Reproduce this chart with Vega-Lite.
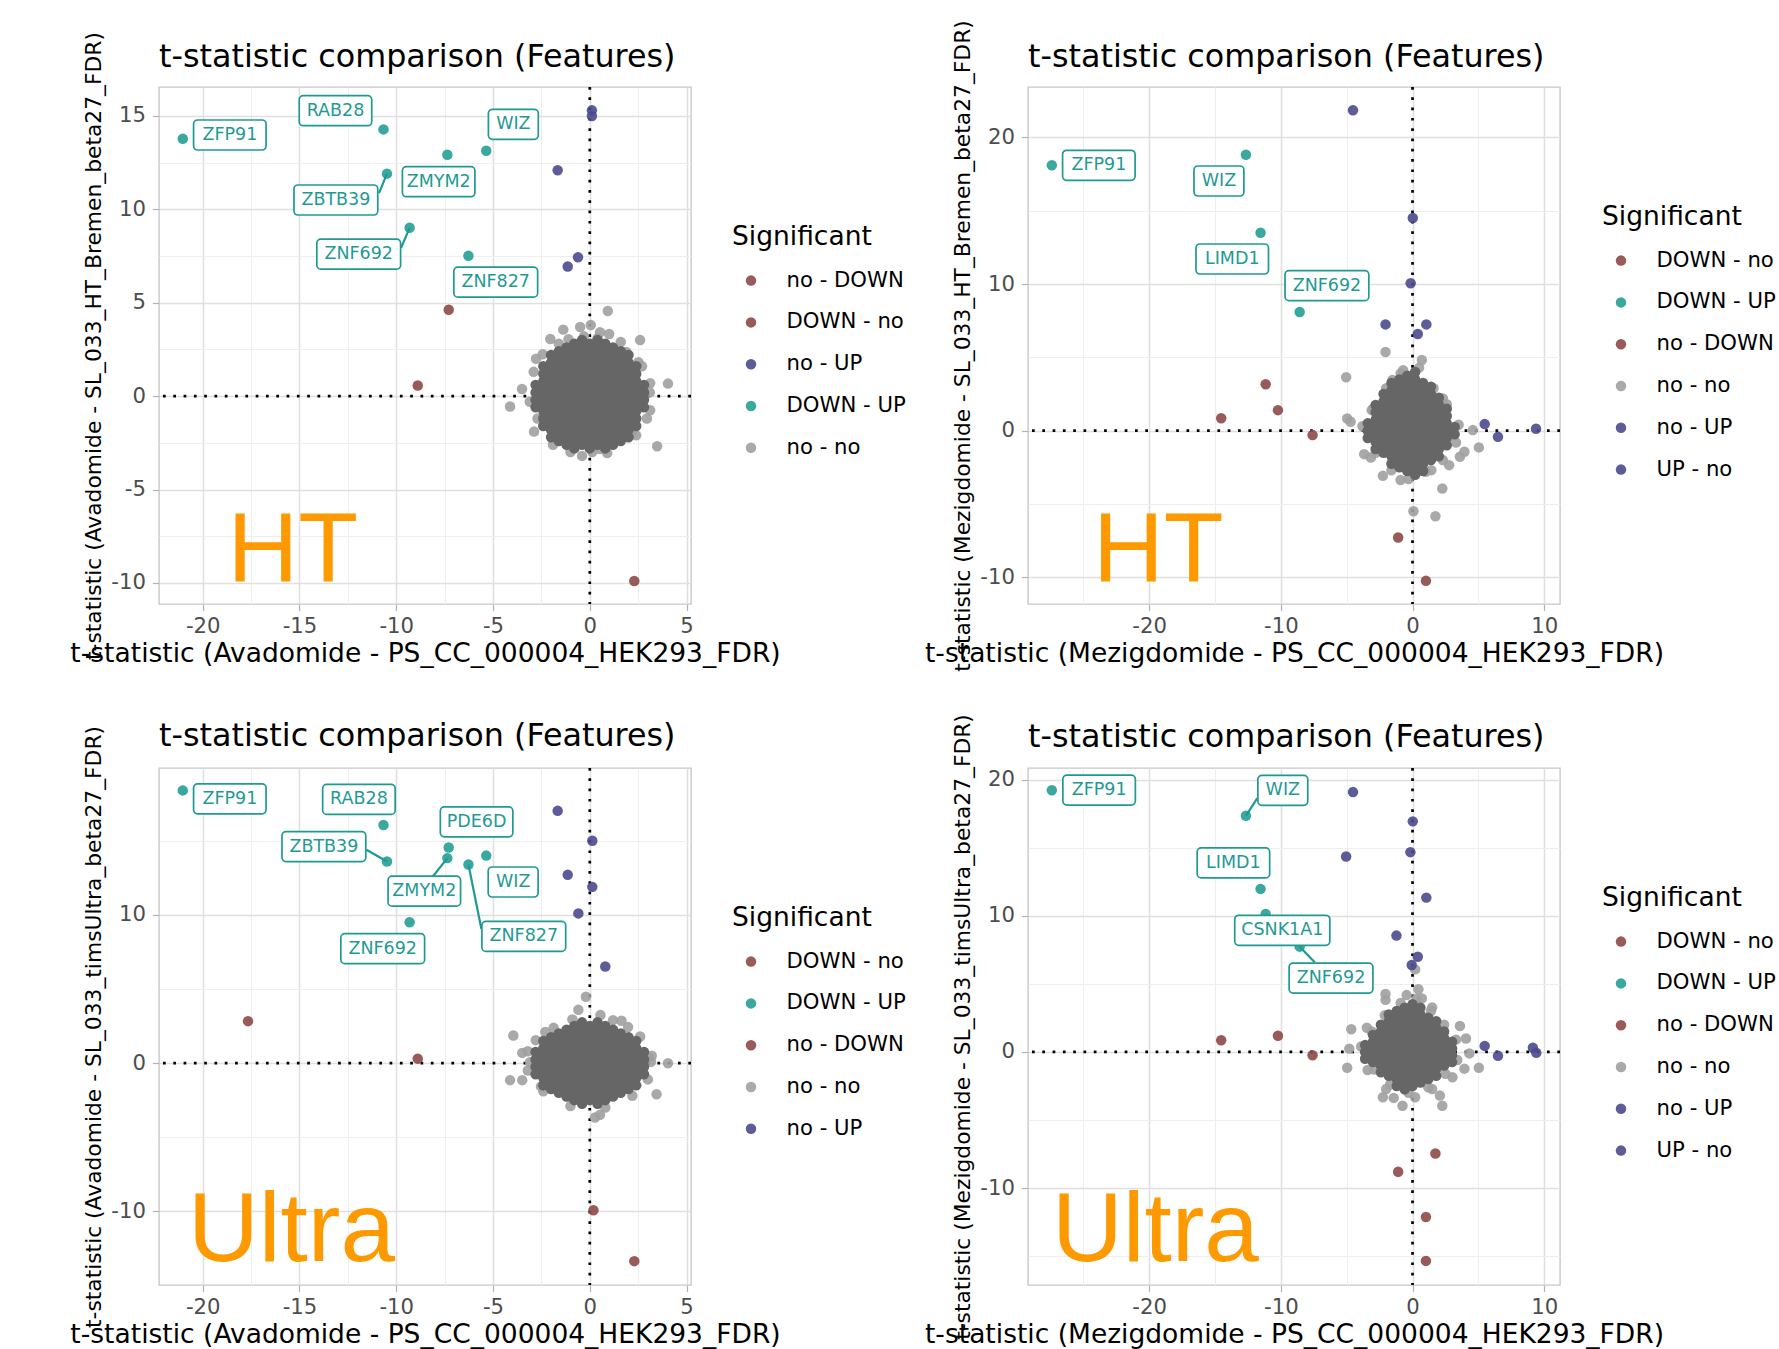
{
"$schema": "https://vega.github.io/schema/vega-lite/v6.json",
"autosize": {"type": "none"},
"padding": {"left": 159, "top": 87, "right": 1620, "bottom": 1262},
"config": {
 "font": "DejaVu Sans",
 "view": {"stroke": "#c8c8c8", "strokeWidth": 1.4},
 "axis": {"domain": false, "grid": true, "ticks": true, "tickColor": "#b3b3b3", "tickSize": 6.6, "tickWidth": 1.2, "labelFont": "DejaVu Sans", "labelFontSize": 21.2, "labelColor": "#4d4d4d", "labelFlush": false, "titleFont": "DejaVu Sans", "titleFontSize": 26.5, "titleFontWeight": "normal", "titleColor": "#000000"},
 "legend": {"orient": "none", "titleFontSize": 26.5, "titleFontWeight": "normal", "titleColor": "#000000", "labelFontSize": 21.2, "labelColor": "#000000", "symbolType": "circle", "symbolSize": 110, "symbolOpacity": 0.9, "symbolStrokeWidth": 0, "rowPadding": 19.8, "titlePadding": 19.5, "symbolOffset": 8.4, "labelOffset": 24.9, "padding": 0},
 "title": {"fontSize": 31.8, "fontWeight": "normal", "anchor": "start", "frame": "group", "baseline": "alphabetic", "color": "#000000"}
},
"datasets": {
 "z": [{"v": 0}],
 "t1": [{"t": "HT", "x": -18.72, "y": -9.9}],
 "t2": [{"t": "HT", "x": -24.27, "y": -10.26}],
 "t3": [{"t": "Ultra", "x": -20.76, "y": -13.36}],
 "t4": [{"t": "Ultra", "x": -27.38, "y": -15.35}],
 "p1": [
  {"x":0.93,"y":4.56,"s":"no - no"},{"x":-1.37,"y":3.56,"s":"no - no"},{"x":-0.5,"y":3.7,"s":"no - no"},{"x":0.05,"y":3.81,"s":"no - no"},{"x":-2.04,"y":3.06,"s":"no - no"},{"x":2.6,"y":3.0,"s":"no - no"},{"x":-2.78,"y":2.0,"s":"no - no"},{"x":-2.43,"y":2.24,"s":"no - no"},{"x":1.89,"y":2.36,"s":"no - no"},{"x":2.51,"y":1.81,"s":"no - no"},{"x":-3.5,"y":0.38,"s":"no - no"},{"x":-4.12,"y":-0.56,"s":"no - no"},{"x":3.12,"y":0.69,"s":"no - no"},{"x":4.04,"y":0.67,"s":"no - no"},{"x":3.12,"y":-0.76,"s":"no - no"},{"x":-2.88,"y":-1.9,"s":"no - no"},{"x":2.17,"y":-1.96,"s":"no - no"},{"x":-1.0,"y":-2.99,"s":"no - no"},{"x":0.13,"y":-2.99,"s":"no - no"},{"x":0.53,"y":-2.83,"s":"no - no"},{"x":3.48,"y":-2.68,"s":"no - no"},{"x":-1.62,"y":-2.38,"s":"no - no"},{"x":1.14,"y":-2.43,"s":"no - no"},{"x":0.53,"y":3.42,"s":"no - no"},{"x":1.0,"y":3.33,"s":"no - no"},{"x":-2.4,"y":-1.58,"s":"no - no"},{"x":1.7,"y":-2.04,"s":"no - no"},{"x":2.55,"y":-0.38,"s":"no - no"},{"x":-0.3,"y":3.2,"s":"no - no"},{"x":0.4,"y":3.1,"s":"no - no"},{"x":-1.1,"y":3.05,"s":"no - no"},
  {"x":3.1,"y":0.2,"s":"no - no"},{"x":2.7,"y":1.6,"s":"no - no"},{"x":1.6,"y":2.9,"s":"no - no"},{"x":-1.6,"y":2.8,"s":"no - no"},{"x":-2.9,"y":1.3,"s":"no - no"},{"x":-3.1,"y":-0.3,"s":"no - no"},{"x":-2.7,"y":-1.2,"s":"no - no"},{"x":-1.9,"y":-2.6,"s":"no - no"},{"x":-0.4,"y":-3.2,"s":"no - no"},{"x":0.9,"y":-3.05,"s":"no - no"},{"x":2.4,"y":-2.1,"s":"no - no"},{"x":2.95,"y":-1.2,"s":"no - no"},
  {"g":"ZFP91","x":-21.03,"y":13.78,"s":"DOWN - UP","lx":-18.6,"ly":13.98},
  {"g":"RAB28","x":-10.66,"y":14.28,"s":"DOWN - UP","lx":-13.14,"ly":15.28},
  {"g":"ZMYM2","x":-7.36,"y":12.92,"s":"DOWN - UP","lx":-7.81,"ly":11.48},
  {"g":"WIZ","x":-5.35,"y":13.14,"s":"DOWN - UP","lx":-3.95,"ly":14.55},
  {"g":"ZBTB39","x":-10.48,"y":11.91,"s":"DOWN - UP","lx":-13.12,"ly":10.5,"ex":-10.89,"ey":10.87},
  {"g":"ZNF692","x":-9.31,"y":9.01,"s":"DOWN - UP","lx":-11.94,"ly":7.6,"ex":-9.75,"ey":7.94},
  {"g":"ZNF827","x":-6.27,"y":7.51,"s":"DOWN - UP","lx":-4.86,"ly":6.1},
  {"x":0.11,"y":15.3,"s":"no - UP"},{"x":0.11,"y":15.0,"s":"no - UP"},{"x":-1.66,"y":12.09,"s":"no - UP"},{"x":-0.61,"y":7.43,"s":"no - UP"},{"x":-1.14,"y":6.94,"s":"no - UP"},
  {"x":-7.29,"y":4.62,"s":"DOWN - no"},{"x":-8.89,"y":0.57,"s":"DOWN - no"},
  {"x":2.3,"y":-9.9,"s":"no - DOWN"}
 ],
 "p2": [
  {"x":-2.05,"y":5.37,"s":"no - no"},{"x":0.71,"y":4.82,"s":"no - no"},{"x":-5.04,"y":3.64,"s":"no - no"},{"x":-4.96,"y":0.83,"s":"no - no"},{"x":-4.7,"y":0.61,"s":"no - no"},{"x":5.04,"y":-1.14,"s":"no - no"},{"x":4.58,"y":0.04,"s":"no - no"},{"x":3.6,"y":-1.78,"s":"no - no"},{"x":3.94,"y":-1.44,"s":"no - no"},{"x":2.78,"y":-2.35,"s":"no - no"},{"x":2.26,"y":-3.94,"s":"no - no"},{"x":-2.25,"y":-3.08,"s":"no - no"},{"x":-0.91,"y":-3.37,"s":"no - no"},{"x":1.43,"y":-2.69,"s":"no - no"},{"x":-3.67,"y":-1.6,"s":"no - no"},{"x":-3.16,"y":-1.83,"s":"no - no"},{"x":-3.1,"y":1.4,"s":"no - no"},{"x":0.07,"y":-5.49,"s":"no - no"},{"x":1.74,"y":-5.83,"s":"no - no"},{"x":2.31,"y":2.2,"s":"no - no"},{"x":-0.71,"y":4.13,"s":"no - no"},{"x":-1.53,"y":3.45,"s":"no - no"},
  {"x":-3.8,"y":0.3,"s":"no - no"},{"x":-3.0,"y":1.5,"s":"no - no"},{"x":-2.0,"y":2.9,"s":"no - no"},{"x":-0.9,"y":3.9,"s":"no - no"},{"x":0.5,"y":4.3,"s":"no - no"},{"x":1.6,"y":2.9,"s":"no - no"},{"x":2.6,"y":1.8,"s":"no - no"},{"x":3.5,"y":0.4,"s":"no - no"},{"x":3.3,"y":-0.8,"s":"no - no"},{"x":2.3,"y":-2.0,"s":"no - no"},{"x":1.0,"y":-2.8,"s":"no - no"},{"x":-0.3,"y":-3.3,"s":"no - no"},{"x":-1.6,"y":-2.7,"s":"no - no"},{"x":-2.8,"y":-1.5,"s":"no - no"},
  {"g":"ZFP91","x":-27.39,"y":18.1,"s":"DOWN - UP","lx":-23.82,"ly":18.1},
  {"g":"WIZ","x":-12.65,"y":18.82,"s":"DOWN - UP","lx":-14.7,"ly":17.03},
  {"g":"LIMD1","x":-11.54,"y":13.5,"s":"DOWN - UP","lx":-13.69,"ly":11.71},
  {"g":"ZNF692","x":-8.57,"y":8.09,"s":"DOWN - UP","lx":-6.5,"ly":9.89},
  {"x":-4.52,"y":21.85,"s":"no - UP"},{"x":0.02,"y":14.5,"s":"no - UP"},{"x":-0.14,"y":10.05,"s":"no - UP"},{"x":-2.05,"y":7.25,"s":"no - UP"},{"x":1.05,"y":7.25,"s":"no - UP"},{"x":0.4,"y":6.59,"s":"no - UP"},
  {"x":5.48,"y":0.45,"s":"UP - no"},{"x":6.49,"y":-0.42,"s":"UP - no"},{"x":9.38,"y":0.13,"s":"UP - no"},
  {"x":-11.15,"y":3.17,"s":"DOWN - no"},{"x":-10.22,"y":1.4,"s":"DOWN - no"},{"x":-14.53,"y":0.85,"s":"DOWN - no"},{"x":-7.59,"y":-0.3,"s":"DOWN - no"},
  {"x":-1.09,"y":-7.28,"s":"no - DOWN"},{"x":1.02,"y":-10.24,"s":"no - DOWN"}
 ],
 "p3": [
  {"x":-0.2,"y":4.48,"s":"no - no"},{"x":-0.59,"y":3.6,"s":"no - no"},{"x":-3.95,"y":1.86,"s":"no - no"},{"x":-3.49,"y":0.69,"s":"no - no"},{"x":-4.12,"y":-1.15,"s":"no - no"},{"x":-3.49,"y":-1.15,"s":"no - no"},{"x":4.04,"y":-0.01,"s":"no - no"},{"x":3.45,"y":-2.1,"s":"no - no"},{"x":-2.79,"y":1.55,"s":"no - no"},{"x":0.55,"y":3.25,"s":"no - no"},{"x":1.64,"y":2.86,"s":"no - no"},{"x":1.98,"y":2.43,"s":"no - no"},{"x":-1.87,"y":2.38,"s":"no - no"},{"x":0.27,"y":-3.67,"s":"no - no"},{"x":0.53,"y":-3.49,"s":"no - no"},{"x":-2.52,"y":-1.57,"s":"no - no"},{"x":-3.09,"y":0.06,"s":"no - no"},{"x":3.03,"y":0.39,"s":"no - no"},{"x":3.16,"y":0.09,"s":"no - no"},
  {"x":3.2,"y":0.5,"s":"no - no"},{"x":2.6,"y":1.8,"s":"no - no"},{"x":1.2,"y":2.9,"s":"no - no"},{"x":-0.9,"y":2.95,"s":"no - no"},{"x":-2.3,"y":2.1,"s":"no - no"},{"x":-3.2,"y":0.8,"s":"no - no"},{"x":-3.2,"y":-0.5,"s":"no - no"},{"x":-2.4,"y":-1.9,"s":"no - no"},{"x":-1.0,"y":-2.9,"s":"no - no"},{"x":0.8,"y":-3.0,"s":"no - no"},{"x":2.2,"y":-2.2,"s":"no - no"},{"x":3.0,"y":-1.1,"s":"no - no"},
  {"g":"ZFP91","x":-21.03,"y":18.4,"s":"DOWN - UP","lx":-18.6,"ly":17.83},
  {"g":"RAB28","x":-10.66,"y":16.06,"s":"DOWN - UP","lx":-11.93,"ly":17.79},
  {"g":"PDE6D","x":-7.29,"y":14.55,"s":"DOWN - UP","lx":-5.85,"ly":16.28},
  {"g":"ZMYM2","x":-7.36,"y":13.83,"s":"DOWN - UP","lx":-8.55,"ly":11.6,"ex":-8.11,"ey":12.59},
  {"g":"WIZ","x":-5.35,"y":14.0,"s":"DOWN - UP","lx":-3.96,"ly":12.22},
  {"g":"ZNF827","x":-6.27,"y":13.4,"s":"DOWN - UP","lx":-3.41,"ly":8.55,"ex":-5.6,"ey":9.05},
  {"g":"ZBTB39","x":-10.48,"y":13.6,"s":"DOWN - UP","lx":-13.74,"ly":14.61,"ex":-11.54,"ey":14.39},
  {"g":"ZNF692","x":-9.31,"y":9.5,"s":"DOWN - UP","lx":-10.7,"ly":7.72},
  {"x":-1.66,"y":17.02,"s":"no - UP"},{"x":0.13,"y":15.0,"s":"no - UP"},{"x":-1.14,"y":12.7,"s":"no - UP"},{"x":0.13,"y":11.89,"s":"no - UP"},{"x":-0.59,"y":10.1,"s":"no - UP"},{"x":0.8,"y":6.52,"s":"no - UP"},
  {"x":-17.66,"y":2.83,"s":"DOWN - no"},{"x":-8.89,"y":0.3,"s":"DOWN - no"},
  {"x":0.19,"y":-9.93,"s":"no - DOWN"},{"x":2.3,"y":-13.36,"s":"no - DOWN"}
 ],
 "p4": [
  {"x":0.2,"y":6.06,"s":"no - no"},{"x":-2.05,"y":4.25,"s":"no - no"},{"x":-2.05,"y":3.82,"s":"no - no"},{"x":0.45,"y":4.6,"s":"no - no"},{"x":-0.45,"y":4.17,"s":"no - no"},{"x":0.71,"y":3.93,"s":"no - no"},{"x":1.49,"y":3.27,"s":"no - no"},{"x":3.6,"y":1.9,"s":"no - no"},{"x":4.06,"y":0.98,"s":"no - no"},{"x":4.32,"y":-0.11,"s":"no - no"},{"x":5.04,"y":-1.16,"s":"no - no"},{"x":3.94,"y":-1.23,"s":"no - no"},{"x":-4.65,"y":1.66,"s":"no - no"},{"x":-3.47,"y":1.77,"s":"no - no"},{"x":-4.8,"y":0.24,"s":"no - no"},{"x":-4.96,"y":-1.16,"s":"no - no"},{"x":-3.41,"y":-1.33,"s":"no - no"},{"x":3.03,"y":-1.86,"s":"no - no"},{"x":-2.25,"y":-3.33,"s":"no - no"},{"x":-1.43,"y":-3.38,"s":"no - no"},{"x":-0.76,"y":-3.95,"s":"no - no"},{"x":0.2,"y":-3.33,"s":"no - no"},{"x":1.49,"y":-2.72,"s":"no - no"},{"x":2.08,"y":-3.21,"s":"no - no"},{"x":2.26,"y":-3.95,"s":"no - no"},{"x":-2.0,"y":-2.72,"s":"no - no"},
  {"x":-3.9,"y":0.4,"s":"no - no"},{"x":-3.1,"y":1.5,"s":"no - no"},{"x":-2.1,"y":2.7,"s":"no - no"},{"x":-0.9,"y":3.6,"s":"no - no"},{"x":0.3,"y":3.9,"s":"no - no"},{"x":1.4,"y":3.0,"s":"no - no"},{"x":2.4,"y":2.0,"s":"no - no"},{"x":3.3,"y":0.9,"s":"no - no"},{"x":3.4,"y":-0.6,"s":"no - no"},{"x":2.5,"y":-1.6,"s":"no - no"},{"x":1.2,"y":-2.6,"s":"no - no"},{"x":-0.3,"y":-3.0,"s":"no - no"},{"x":-1.7,"y":-2.4,"s":"no - no"},{"x":-2.9,"y":-1.3,"s":"no - no"},
  {"g":"ZFP91","x":-27.39,"y":19.21,"s":"DOWN - UP","lx":-23.8,"ly":19.23},
  {"g":"WIZ","x":-12.65,"y":17.34,"s":"DOWN - UP","lx":-9.85,"ly":19.21,"ex":-11.79,"ey":18.64},
  {"g":"LIMD1","x":-11.54,"y":11.97,"s":"DOWN - UP","lx":-13.6,"ly":13.88},
  {"g":"CSNK1A1","x":-11.15,"y":10.13,"s":"DOWN - UP","lx":-9.89,"ly":8.93},
  {"g":"ZNF692","x":-8.57,"y":7.73,"s":"DOWN - UP","lx":-6.19,"ly":5.42,"ex":-7.41,"ey":6.57},
  {"x":-4.52,"y":19.08,"s":"no - UP"},{"x":0.02,"y":16.93,"s":"no - UP"},{"x":-0.16,"y":14.67,"s":"no - UP"},{"x":-5.04,"y":14.35,"s":"no - UP"},{"x":1.05,"y":11.33,"s":"no - UP"},{"x":-1.22,"y":8.54,"s":"no - UP"},{"x":0.4,"y":6.99,"s":"no - UP"},{"x":-0.06,"y":6.38,"s":"no - UP"},
  {"x":5.48,"y":0.44,"s":"UP - no"},{"x":6.49,"y":-0.29,"s":"UP - no"},{"x":9.14,"y":0.3,"s":"UP - no"},{"x":9.4,"y":-0.07,"s":"UP - no"},
  {"x":-14.53,"y":0.86,"s":"DOWN - no"},{"x":-10.22,"y":1.18,"s":"DOWN - no"},{"x":-7.59,"y":-0.25,"s":"DOWN - no"},
  {"x":1.74,"y":-7.46,"s":"no - DOWN"},{"x":-1.09,"y":-8.8,"s":"no - DOWN"},{"x":1.02,"y":-12.12,"s":"no - DOWN"},{"x":1.02,"y":-15.35,"s":"no - DOWN"}
 ],
 "b1": [
  {"x":-2.8,"y":-0.6},{"x":-2.8,"y":-0.2},{"x":-2.8,"y":0.2},{"x":-2.8,"y":0.6},
  {"x":-2.4,"y":-1.6},{"x":-2.4,"y":-1.2},{"x":-2.4,"y":-0.8},{"x":-2.4,"y":-0.4},{"x":-2.4,"y":0},{"x":-2.4,"y":0.4},{"x":-2.4,"y":0.8},{"x":-2.4,"y":1.2},{"x":-2.4,"y":1.6},
  {"x":-2.0,"y":-2.2},{"x":-2.0,"y":-1.8},{"x":-2.0,"y":-1.4},{"x":-2.0,"y":-1},{"x":-2.0,"y":-0.6},{"x":-2.0,"y":-0.2},{"x":-2.0,"y":0.2},{"x":-2.0,"y":0.6},{"x":-2.0,"y":1},{"x":-2.0,"y":1.4},{"x":-2.0,"y":1.8},{"x":-2.0,"y":2.2},
  {"x":-1.6,"y":-2.4},{"x":-1.6,"y":-2},{"x":-1.6,"y":-1.6},{"x":-1.6,"y":-1.2},{"x":-1.6,"y":-0.8},{"x":-1.6,"y":-0.4},{"x":-1.6,"y":0},{"x":-1.6,"y":0.4},{"x":-1.6,"y":0.8},{"x":-1.6,"y":1.2},{"x":-1.6,"y":1.6},{"x":-1.6,"y":2},{"x":-1.6,"y":2.4},
  {"x":-1.2,"y":-2.6},{"x":-1.2,"y":-2.2},{"x":-1.2,"y":-1.8},{"x":-1.2,"y":-1.4},{"x":-1.2,"y":-1},{"x":-1.2,"y":-0.6},{"x":-1.2,"y":-0.2},{"x":-1.2,"y":0.2},{"x":-1.2,"y":0.6},{"x":-1.2,"y":1},{"x":-1.2,"y":1.4},{"x":-1.2,"y":1.8},{"x":-1.2,"y":2.2},{"x":-1.2,"y":2.6},
  {"x":-0.8,"y":-2.8},{"x":-0.8,"y":-2.4},{"x":-0.8,"y":-2},{"x":-0.8,"y":-1.6},{"x":-0.8,"y":-1.2},{"x":-0.8,"y":-0.8},{"x":-0.8,"y":-0.4},{"x":-0.8,"y":0},{"x":-0.8,"y":0.4},{"x":-0.8,"y":0.8},{"x":-0.8,"y":1.2},{"x":-0.8,"y":1.6},{"x":-0.8,"y":2},{"x":-0.8,"y":2.4},{"x":-0.8,"y":2.8},
  {"x":-0.4,"y":-2.6},{"x":-0.4,"y":-2.2},{"x":-0.4,"y":-1.8},{"x":-0.4,"y":-1.4},{"x":-0.4,"y":-1},{"x":-0.4,"y":-0.6},{"x":-0.4,"y":-0.2},{"x":-0.4,"y":0.2},{"x":-0.4,"y":0.6},{"x":-0.4,"y":1},{"x":-0.4,"y":1.4},{"x":-0.4,"y":1.8},{"x":-0.4,"y":2.2},{"x":-0.4,"y":2.6},{"x":-0.4,"y":3},
  {"x":0,"y":-2.8},{"x":0,"y":-2.4},{"x":0,"y":-2},{"x":0,"y":-1.6},{"x":0,"y":-1.2},{"x":0,"y":-0.8},{"x":0,"y":-0.4},{"x":0,"y":0},{"x":0,"y":0.4},{"x":0,"y":0.8},{"x":0,"y":1.2},{"x":0,"y":1.6},{"x":0,"y":2},{"x":0,"y":2.4},{"x":0,"y":2.8},
  {"x":0.4,"y":-2.6},{"x":0.4,"y":-2.2},{"x":0.4,"y":-1.8},{"x":0.4,"y":-1.4},{"x":0.4,"y":-1},{"x":0.4,"y":-0.6},{"x":0.4,"y":-0.2},{"x":0.4,"y":0.2},{"x":0.4,"y":0.6},{"x":0.4,"y":1},{"x":0.4,"y":1.4},{"x":0.4,"y":1.8},{"x":0.4,"y":2.2},{"x":0.4,"y":2.6},{"x":0.4,"y":3},
  {"x":0.8,"y":-2.8},{"x":0.8,"y":-2.4},{"x":0.8,"y":-2},{"x":0.8,"y":-1.6},{"x":0.8,"y":-1.2},{"x":0.8,"y":-0.8},{"x":0.8,"y":-0.4},{"x":0.8,"y":0},{"x":0.8,"y":0.4},{"x":0.8,"y":0.8},{"x":0.8,"y":1.2},{"x":0.8,"y":1.6},{"x":0.8,"y":2},{"x":0.8,"y":2.4},{"x":0.8,"y":2.8},
  {"x":1.2,"y":-2.6},{"x":1.2,"y":-2.2},{"x":1.2,"y":-1.8},{"x":1.2,"y":-1.4},{"x":1.2,"y":-1},{"x":1.2,"y":-0.6},{"x":1.2,"y":-0.2},{"x":1.2,"y":0.2},{"x":1.2,"y":0.6},{"x":1.2,"y":1},{"x":1.2,"y":1.4},{"x":1.2,"y":1.8},{"x":1.2,"y":2.2},{"x":1.2,"y":2.6},
  {"x":1.6,"y":-2.4},{"x":1.6,"y":-2},{"x":1.6,"y":-1.6},{"x":1.6,"y":-1.2},{"x":1.6,"y":-0.8},{"x":1.6,"y":-0.4},{"x":1.6,"y":0},{"x":1.6,"y":0.4},{"x":1.6,"y":0.8},{"x":1.6,"y":1.2},{"x":1.6,"y":1.6},{"x":1.6,"y":2},{"x":1.6,"y":2.4},
  {"x":2.0,"y":-2.2},{"x":2.0,"y":-1.8},{"x":2.0,"y":-1.4},{"x":2.0,"y":-1},{"x":2.0,"y":-0.6},{"x":2.0,"y":-0.2},{"x":2.0,"y":0.2},{"x":2.0,"y":0.6},{"x":2.0,"y":1},{"x":2.0,"y":1.4},{"x":2.0,"y":1.8},{"x":2.0,"y":2.2},
  {"x":2.4,"y":-1.6},{"x":2.4,"y":-1.2},{"x":2.4,"y":-0.8},{"x":2.4,"y":-0.4},{"x":2.4,"y":0},{"x":2.4,"y":0.4},{"x":2.4,"y":0.8},{"x":2.4,"y":1.2},{"x":2.4,"y":1.6},
  {"x":2.8,"y":-0.6},{"x":2.8,"y":-0.2},{"x":2.8,"y":0.2},{"x":2.8,"y":0.6}
 ],
 "b2": [
  {"x":-3.4,"y":-0.5},{"x":-3.4,"y":0},{"x":-3.4,"y":0.5},
  {"x":-2.8,"y":-1.25},{"x":-2.8,"y":-0.75},{"x":-2.8,"y":-0.25},{"x":-2.8,"y":0.25},{"x":-2.8,"y":0.75},{"x":-2.8,"y":1.25},{"x":-2.8,"y":1.75},
  {"x":-2.2,"y":-1.5},{"x":-2.2,"y":-1},{"x":-2.2,"y":-0.5},{"x":-2.2,"y":0},{"x":-2.2,"y":0.5},{"x":-2.2,"y":1},{"x":-2.2,"y":1.5},{"x":-2.2,"y":2},{"x":-2.2,"y":2.5},
  {"x":-1.6,"y":-2.25},{"x":-1.6,"y":-1.75},{"x":-1.6,"y":-1.25},{"x":-1.6,"y":-0.75},{"x":-1.6,"y":-0.25},{"x":-1.6,"y":0.25},{"x":-1.6,"y":0.75},{"x":-1.6,"y":1.25},{"x":-1.6,"y":1.75},{"x":-1.6,"y":2.25},{"x":-1.6,"y":2.75},{"x":-1.6,"y":3.25},
  {"x":-1.0,"y":-2.5},{"x":-1.0,"y":-2},{"x":-1.0,"y":-1.5},{"x":-1.0,"y":-1},{"x":-1.0,"y":-0.5},{"x":-1.0,"y":0},{"x":-1.0,"y":0.5},{"x":-1.0,"y":1},{"x":-1.0,"y":1.5},{"x":-1.0,"y":2},{"x":-1.0,"y":2.5},{"x":-1.0,"y":3},{"x":-1.0,"y":3.5},
  {"x":-0.4,"y":-2.75},{"x":-0.4,"y":-2.25},{"x":-0.4,"y":-1.75},{"x":-0.4,"y":-1.25},{"x":-0.4,"y":-0.75},{"x":-0.4,"y":-0.25},{"x":-0.4,"y":0.25},{"x":-0.4,"y":0.75},{"x":-0.4,"y":1.25},{"x":-0.4,"y":1.75},{"x":-0.4,"y":2.25},{"x":-0.4,"y":2.75},{"x":-0.4,"y":3.25},{"x":-0.4,"y":3.75},
  {"x":0.2,"y":-3},{"x":0.2,"y":-2.5},{"x":0.2,"y":-2},{"x":0.2,"y":-1.5},{"x":0.2,"y":-1},{"x":0.2,"y":-0.5},{"x":0.2,"y":0},{"x":0.2,"y":0.5},{"x":0.2,"y":1},{"x":0.2,"y":1.5},{"x":0.2,"y":2},{"x":0.2,"y":2.5},{"x":0.2,"y":3},{"x":0.2,"y":3.5},{"x":0.2,"y":4},
  {"x":0.8,"y":-2.75},{"x":0.8,"y":-2.25},{"x":0.8,"y":-1.75},{"x":0.8,"y":-1.25},{"x":0.8,"y":-0.75},{"x":0.8,"y":-0.25},{"x":0.8,"y":0.25},{"x":0.8,"y":0.75},{"x":0.8,"y":1.25},{"x":0.8,"y":1.75},{"x":0.8,"y":2.25},{"x":0.8,"y":2.75},{"x":0.8,"y":3.25},
  {"x":1.4,"y":-2},{"x":1.4,"y":-1.5},{"x":1.4,"y":-1},{"x":1.4,"y":-0.5},{"x":1.4,"y":0},{"x":1.4,"y":0.5},{"x":1.4,"y":1},{"x":1.4,"y":1.5},{"x":1.4,"y":2},{"x":1.4,"y":2.5},{"x":1.4,"y":3},
  {"x":2.0,"y":-1.75},{"x":2.0,"y":-1.25},{"x":2.0,"y":-0.75},{"x":2.0,"y":-0.25},{"x":2.0,"y":0.25},{"x":2.0,"y":0.75},{"x":2.0,"y":1.25},{"x":2.0,"y":1.75},{"x":2.0,"y":2.25},
  {"x":2.6,"y":-1},{"x":2.6,"y":-0.5},{"x":2.6,"y":0},{"x":2.6,"y":0.5},{"x":2.6,"y":1},{"x":2.6,"y":1.5},
  {"x":3.2,"y":-0.25},{"x":3.2,"y":0.25}
 ],
 "b3": [
  {"x":-2.8,"y":-0.75},{"x":-2.8,"y":-0.25},{"x":-2.8,"y":0.25},{"x":-2.8,"y":0.75},
  {"x":-2.4,"y":-1.5},{"x":-2.4,"y":-1},{"x":-2.4,"y":-0.5},{"x":-2.4,"y":0},{"x":-2.4,"y":0.5},{"x":-2.4,"y":1},{"x":-2.4,"y":1.5},
  {"x":-2.0,"y":-1.75},{"x":-2.0,"y":-1.25},{"x":-2.0,"y":-0.75},{"x":-2.0,"y":-0.25},{"x":-2.0,"y":0.25},{"x":-2.0,"y":0.75},{"x":-2.0,"y":1.25},{"x":-2.0,"y":1.75},
  {"x":-1.6,"y":-2},{"x":-1.6,"y":-1.5},{"x":-1.6,"y":-1},{"x":-1.6,"y":-0.5},{"x":-1.6,"y":0},{"x":-1.6,"y":0.5},{"x":-1.6,"y":1},{"x":-1.6,"y":1.5},{"x":-1.6,"y":2},
  {"x":-1.2,"y":-2.25},{"x":-1.2,"y":-1.75},{"x":-1.2,"y":-1.25},{"x":-1.2,"y":-0.75},{"x":-1.2,"y":-0.25},{"x":-1.2,"y":0.25},{"x":-1.2,"y":0.75},{"x":-1.2,"y":1.25},{"x":-1.2,"y":1.75},{"x":-1.2,"y":2.25},
  {"x":-0.8,"y":-2.5},{"x":-0.8,"y":-2},{"x":-0.8,"y":-1.5},{"x":-0.8,"y":-1},{"x":-0.8,"y":-0.5},{"x":-0.8,"y":0},{"x":-0.8,"y":0.5},{"x":-0.8,"y":1},{"x":-0.8,"y":1.5},{"x":-0.8,"y":2},{"x":-0.8,"y":2.5},
  {"x":-0.4,"y":-2.75},{"x":-0.4,"y":-2.25},{"x":-0.4,"y":-1.75},{"x":-0.4,"y":-1.25},{"x":-0.4,"y":-0.75},{"x":-0.4,"y":-0.25},{"x":-0.4,"y":0.25},{"x":-0.4,"y":0.75},{"x":-0.4,"y":1.25},{"x":-0.4,"y":1.75},{"x":-0.4,"y":2.25},{"x":-0.4,"y":2.75},
  {"x":0,"y":-2.5},{"x":0,"y":-2},{"x":0,"y":-1.5},{"x":0,"y":-1},{"x":0,"y":-0.5},{"x":0,"y":0},{"x":0,"y":0.5},{"x":0,"y":1},{"x":0,"y":1.5},{"x":0,"y":2},{"x":0,"y":2.5},
  {"x":0.4,"y":-2.75},{"x":0.4,"y":-2.25},{"x":0.4,"y":-1.75},{"x":0.4,"y":-1.25},{"x":0.4,"y":-0.75},{"x":0.4,"y":-0.25},{"x":0.4,"y":0.25},{"x":0.4,"y":0.75},{"x":0.4,"y":1.25},{"x":0.4,"y":1.75},{"x":0.4,"y":2.25},{"x":0.4,"y":2.75},
  {"x":0.8,"y":-2.5},{"x":0.8,"y":-2},{"x":0.8,"y":-1.5},{"x":0.8,"y":-1},{"x":0.8,"y":-0.5},{"x":0.8,"y":0},{"x":0.8,"y":0.5},{"x":0.8,"y":1},{"x":0.8,"y":1.5},{"x":0.8,"y":2},{"x":0.8,"y":2.5},
  {"x":1.2,"y":-2.25},{"x":1.2,"y":-1.75},{"x":1.2,"y":-1.25},{"x":1.2,"y":-0.75},{"x":1.2,"y":-0.25},{"x":1.2,"y":0.25},{"x":1.2,"y":0.75},{"x":1.2,"y":1.25},{"x":1.2,"y":1.75},{"x":1.2,"y":2.25},
  {"x":1.6,"y":-2},{"x":1.6,"y":-1.5},{"x":1.6,"y":-1},{"x":1.6,"y":-0.5},{"x":1.6,"y":0},{"x":1.6,"y":0.5},{"x":1.6,"y":1},{"x":1.6,"y":1.5},{"x":1.6,"y":2},
  {"x":2.0,"y":-1.75},{"x":2.0,"y":-1.25},{"x":2.0,"y":-0.75},{"x":2.0,"y":-0.25},{"x":2.0,"y":0.25},{"x":2.0,"y":0.75},{"x":2.0,"y":1.25},{"x":2.0,"y":1.75},
  {"x":2.4,"y":-1.5},{"x":2.4,"y":-1},{"x":2.4,"y":-0.5},{"x":2.4,"y":0},{"x":2.4,"y":0.5},{"x":2.4,"y":1},{"x":2.4,"y":1.5},
  {"x":2.8,"y":-0.75},{"x":2.8,"y":-0.25},{"x":2.8,"y":0.25},{"x":2.8,"y":0.75}
 ],
 "b4": [
  {"x":-3.6,"y":-0.5},{"x":-3.6,"y":0},{"x":-3.6,"y":0.5},
  {"x":-3.0,"y":-0.75},{"x":-3.0,"y":-0.25},{"x":-3.0,"y":0.25},{"x":-3.0,"y":0.75},{"x":-3.0,"y":1.25},
  {"x":-2.4,"y":-1.5},{"x":-2.4,"y":-1},{"x":-2.4,"y":-0.5},{"x":-2.4,"y":0},{"x":-2.4,"y":0.5},{"x":-2.4,"y":1},{"x":-2.4,"y":1.5},{"x":-2.4,"y":2},
  {"x":-1.8,"y":-1.75},{"x":-1.8,"y":-1.25},{"x":-1.8,"y":-0.75},{"x":-1.8,"y":-0.25},{"x":-1.8,"y":0.25},{"x":-1.8,"y":0.75},{"x":-1.8,"y":1.25},{"x":-1.8,"y":1.75},{"x":-1.8,"y":2.25},{"x":-1.8,"y":2.75},
  {"x":-1.2,"y":-2.5},{"x":-1.2,"y":-2},{"x":-1.2,"y":-1.5},{"x":-1.2,"y":-1},{"x":-1.2,"y":-0.5},{"x":-1.2,"y":0},{"x":-1.2,"y":0.5},{"x":-1.2,"y":1},{"x":-1.2,"y":1.5},{"x":-1.2,"y":2},{"x":-1.2,"y":2.5},{"x":-1.2,"y":3},
  {"x":-0.6,"y":-2.75},{"x":-0.6,"y":-2.25},{"x":-0.6,"y":-1.75},{"x":-0.6,"y":-1.25},{"x":-0.6,"y":-0.75},{"x":-0.6,"y":-0.25},{"x":-0.6,"y":0.25},{"x":-0.6,"y":0.75},{"x":-0.6,"y":1.25},{"x":-0.6,"y":1.75},{"x":-0.6,"y":2.25},{"x":-0.6,"y":2.75},{"x":-0.6,"y":3.25},
  {"x":0,"y":-2.5},{"x":0,"y":-2},{"x":0,"y":-1.5},{"x":0,"y":-1},{"x":0,"y":-0.5},{"x":0,"y":0},{"x":0,"y":0.5},{"x":0,"y":1},{"x":0,"y":1.5},{"x":0,"y":2},{"x":0,"y":2.5},{"x":0,"y":3},{"x":0,"y":3.5},
  {"x":0.6,"y":-2.25},{"x":0.6,"y":-1.75},{"x":0.6,"y":-1.25},{"x":0.6,"y":-0.75},{"x":0.6,"y":-0.25},{"x":0.6,"y":0.25},{"x":0.6,"y":0.75},{"x":0.6,"y":1.25},{"x":0.6,"y":1.75},{"x":0.6,"y":2.25},{"x":0.6,"y":2.75},{"x":0.6,"y":3.25},
  {"x":1.2,"y":-2},{"x":1.2,"y":-1.5},{"x":1.2,"y":-1},{"x":1.2,"y":-0.5},{"x":1.2,"y":0},{"x":1.2,"y":0.5},{"x":1.2,"y":1},{"x":1.2,"y":1.5},{"x":1.2,"y":2},{"x":1.2,"y":2.5},
  {"x":1.8,"y":-1.75},{"x":1.8,"y":-1.25},{"x":1.8,"y":-0.75},{"x":1.8,"y":-0.25},{"x":1.8,"y":0.25},{"x":1.8,"y":0.75},{"x":1.8,"y":1.25},{"x":1.8,"y":1.75},{"x":1.8,"y":2.25},
  {"x":2.4,"y":-1},{"x":2.4,"y":-0.5},{"x":2.4,"y":0},{"x":2.4,"y":0.5},{"x":2.4,"y":1},{"x":2.4,"y":1.5},
  {"x":3.0,"y":-0.75},{"x":3.0,"y":-0.25},{"x":3.0,"y":0.25},{"x":3.0,"y":0.75}
 ]
},
"columns": 2,
"spacing": {"row": 164, "column": 337},
"bounds": "flush",
"resolve": {"scale": {"x": "independent", "y": "independent", "color": "independent"}},
"concat": [
 {
  "width": 532, "height": 517,
  "title": {"text": "t-statistic comparison (Features)", "offset": -42.3},
  "layer": [
   {"data": {"name": "z"}, "mark": {"type": "rule", "color": "#000000", "strokeWidth": 2.7, "strokeDash": [2.7, 7.6]},
    "encoding": {"x": {"field": "v", "type": "quantitative", "scale": {"domain": [-22.26, 5.23], "nice": false, "zero": false},
     "axis": {"values": [-20,-17.5,-15,-12.5,-10,-7.5,-5,-2.5,0,2.5,5], "labelExpr": "datum.value % 5 == 0 ? '' + datum.value : ''",
      "gridColor": {"condition": {"test": "datum.value % 5 != 0", "value": "#eeeeee"}, "value": "#e0e0e0"},
      "gridWidth": {"condition": {"test": "datum.value % 5 != 0", "value": 1}, "value": 1.6},
      "tickOpacity": {"condition": {"test": "datum.value % 5 != 0", "value": 0}, "value": 1},
      "title": "t-statistic (Avadomide - PS_CC_000004_HEK293_FDR)", "titleY": 57, "titleBaseline": "alphabetic", "labelBaseline": "alphabetic", "labelPadding": 22}}}},
   {"data": {"name": "z"}, "mark": {"type": "rule", "color": "#000000", "strokeWidth": 2.7, "strokeDash": [2.7, 7.6]},
    "encoding": {"y": {"field": "v", "type": "quantitative", "scale": {"domain": [-11.13, 16.55], "nice": false, "zero": false},
     "axis": {"values": [-10,-7.5,-5,-2.5,0,2.5,5,7.5,10,12.5,15], "labelExpr": "datum.value % 5 == 0 ? '' + datum.value : ''",
      "gridColor": {"condition": {"test": "datum.value % 5 != 0", "value": "#eeeeee"}, "value": "#e0e0e0"},
      "gridWidth": {"condition": {"test": "datum.value % 5 != 0", "value": 1}, "value": 1.6},
      "tickOpacity": {"condition": {"test": "datum.value % 5 != 0", "value": 0}, "value": 1},
      "title": "t-statistic (Avadomide - SL_033_HT_Bremen_beta27_FDR)", "titleX": -59, "titleBaseline": "alphabetic", "titleFontSize": 21.8, "labelPadding": 7}}}},
   {"data": {"name": "p1"}, "mark": {"type": "circle", "size": 110, "opacity": 0.9},
    "encoding": {"x": {"field": "x", "type": "quantitative"}, "y": {"field": "y", "type": "quantitative"},
     "color": {"field": "s", "type": "nominal", "title": "Significant", "scale": {"domain": ["no - DOWN","DOWN - no","no - UP","DOWN - UP","no - no"], "range": ["#8e4848","#8e4848","#4a4a8e","#23a096","#a0a0a0"]}, "legend": {"legendX": 573, "legendY": 137}}}},
   {"data": {"name": "b1"}, "mark": {"type": "circle", "size": 110, "opacity": 1, "color": "#666666"},
    "encoding": {"x": {"field": "x", "type": "quantitative"}, "y": {"field": "y", "type": "quantitative"}}},
   {"data": {"name": "p1"}, "transform": [{"filter": "isValid(datum.ex)"}], "mark": {"type": "rule", "color": "#1f9a93", "strokeWidth": 2.2},
    "encoding": {"x": {"field": "x", "type": "quantitative"}, "y": {"field": "y", "type": "quantitative"}, "x2": {"field": "ex"}, "y2": {"field": "ey"}}},
   {"data": {"name": "p1"}, "transform": [{"filter": "isValid(datum.lx)"}], "mark": {"type": "rect", "fill": "#ffffff", "stroke": "#1f9a93", "strokeWidth": 1.7, "cornerRadius": 4, "xOffset": {"expr": "-(length(datum.g)*5.65+8)"}, "x2Offset": {"expr": "length(datum.g)*5.65+8"}, "yOffset": -15, "y2Offset": 15},
    "encoding": {"x": {"field": "lx", "type": "quantitative"}, "x2": {"field": "lx"}, "y": {"field": "ly", "type": "quantitative"}, "y2": {"field": "ly"}}},
   {"data": {"name": "p1"}, "transform": [{"filter": "isValid(datum.lx)"}], "mark": {"type": "text", "color": "#1f9a93", "fontSize": 17.5, "font": "DejaVu Sans"},
    "encoding": {"x": {"field": "lx", "type": "quantitative"}, "y": {"field": "ly", "type": "quantitative"}, "text": {"field": "g"}}},
   {"data": {"name": "t1"}, "mark": {"type": "text", "align": "left", "baseline": "alphabetic", "font": "Liberation Sans", "fontSize": 98, "color": "#ff9900"},
    "encoding": {"x": {"field": "x", "type": "quantitative"}, "y": {"field": "y", "type": "quantitative"}, "text": {"field": "t"}}}
  ]
 },
 {
  "width": 532, "height": 517,
  "title": {"text": "t-statistic comparison (Features)", "offset": -54.1},
  "layer": [
   {"data": {"name": "z"}, "mark": {"type": "rule", "color": "#000000", "strokeWidth": 2.7, "strokeDash": [2.7, 7.6]},
    "encoding": {"x": {"field": "v", "type": "quantitative", "scale": {"domain": [-29.2, 11.2], "nice": false, "zero": false},
     "axis": {"values": [-25,-20,-15,-10,-5,0,5,10], "labelExpr": "datum.value % 10 == 0 ? '' + datum.value : ''",
      "gridColor": {"condition": {"test": "datum.value % 10 != 0", "value": "#eeeeee"}, "value": "#e0e0e0"},
      "gridWidth": {"condition": {"test": "datum.value % 10 != 0", "value": 1}, "value": 1.6},
      "tickOpacity": {"condition": {"test": "datum.value % 10 != 0", "value": 0}, "value": 1},
      "title": "t-statistic (Mezigdomide - PS_CC_000004_HEK293_FDR)", "titleY": 57, "titleBaseline": "alphabetic", "labelBaseline": "alphabetic", "labelPadding": 22}}}},
   {"data": {"name": "z"}, "mark": {"type": "rule", "color": "#000000", "strokeWidth": 2.7, "strokeDash": [2.7, 7.6]},
    "encoding": {"y": {"field": "v", "type": "quantitative", "scale": {"domain": [-11.82, 23.44], "nice": false, "zero": false},
     "axis": {"values": [-10,-5,0,5,10,15,20], "labelExpr": "datum.value % 10 == 0 ? '' + datum.value : ''",
      "gridColor": {"condition": {"test": "datum.value % 10 != 0", "value": "#eeeeee"}, "value": "#e0e0e0"},
      "gridWidth": {"condition": {"test": "datum.value % 10 != 0", "value": 1}, "value": 1.6},
      "tickOpacity": {"condition": {"test": "datum.value % 10 != 0", "value": 0}, "value": 1},
      "title": "t-statistic (Mezigdomide - SL_033_HT_Bremen_beta27_FDR)", "titleX": -59, "titleBaseline": "alphabetic", "titleFontSize": 21.8, "labelPadding": 7}}}},
   {"data": {"name": "p2"}, "mark": {"type": "circle", "size": 110, "opacity": 0.9},
    "encoding": {"x": {"field": "x", "type": "quantitative"}, "y": {"field": "y", "type": "quantitative"},
     "color": {"field": "s", "type": "nominal", "title": "Significant", "scale": {"domain": ["DOWN - no","DOWN - UP","no - DOWN","no - no","no - UP","UP - no"], "range": ["#8e4848","#23a096","#8e4848","#a0a0a0","#4a4a8e","#4a4a8e"]}, "legend": {"legendX": 574, "legendY": 117}}}},
   {"data": {"name": "b2"}, "mark": {"type": "circle", "size": 110, "opacity": 1, "color": "#666666"},
    "encoding": {"x": {"field": "x", "type": "quantitative"}, "y": {"field": "y", "type": "quantitative"}}},
   {"data": {"name": "p2"}, "transform": [{"filter": "isValid(datum.lx)"}], "mark": {"type": "rect", "fill": "#ffffff", "stroke": "#1f9a93", "strokeWidth": 1.7, "cornerRadius": 4, "xOffset": {"expr": "-(length(datum.g)*5.65+8)"}, "x2Offset": {"expr": "length(datum.g)*5.65+8"}, "yOffset": -15, "y2Offset": 15},
    "encoding": {"x": {"field": "lx", "type": "quantitative"}, "x2": {"field": "lx"}, "y": {"field": "ly", "type": "quantitative"}, "y2": {"field": "ly"}}},
   {"data": {"name": "p2"}, "transform": [{"filter": "isValid(datum.lx)"}], "mark": {"type": "text", "color": "#1f9a93", "fontSize": 17.5, "font": "DejaVu Sans"},
    "encoding": {"x": {"field": "lx", "type": "quantitative"}, "y": {"field": "ly", "type": "quantitative"}, "text": {"field": "g"}}},
   {"data": {"name": "t2"}, "mark": {"type": "text", "align": "left", "baseline": "alphabetic", "font": "Liberation Sans", "fontSize": 98, "color": "#ff9900"},
    "encoding": {"x": {"field": "x", "type": "quantitative"}, "y": {"field": "y", "type": "quantitative"}, "text": {"field": "t"}}}
  ]
 },
 {
  "width": 532, "height": 517,
  "title": {"text": "t-statistic comparison (Features)", "offset": -27.2},
  "layer": [
   {"data": {"name": "z"}, "mark": {"type": "rule", "color": "#000000", "strokeWidth": 2.7, "strokeDash": [2.7, 7.6]},
    "encoding": {"x": {"field": "v", "type": "quantitative", "scale": {"domain": [-22.26, 5.23], "nice": false, "zero": false},
     "axis": {"values": [-20,-17.5,-15,-12.5,-10,-7.5,-5,-2.5,0,2.5,5], "labelExpr": "datum.value % 5 == 0 ? '' + datum.value : ''",
      "gridColor": {"condition": {"test": "datum.value % 5 != 0", "value": "#eeeeee"}, "value": "#e0e0e0"},
      "gridWidth": {"condition": {"test": "datum.value % 5 != 0", "value": 1}, "value": 1.6},
      "tickOpacity": {"condition": {"test": "datum.value % 5 != 0", "value": 0}, "value": 1},
      "title": "t-statistic (Avadomide - PS_CC_000004_HEK293_FDR)", "titleY": 57, "titleBaseline": "alphabetic", "labelBaseline": "alphabetic", "labelPadding": 22}}}},
   {"data": {"name": "z"}, "mark": {"type": "rule", "color": "#000000", "strokeWidth": 2.7, "strokeDash": [2.7, 7.6]},
    "encoding": {"y": {"field": "v", "type": "quantitative", "scale": {"domain": [-14.97, 19.91], "nice": false, "zero": false},
     "axis": {"values": [-10,-5,0,5,10,15], "labelExpr": "datum.value % 10 == 0 ? '' + datum.value : ''",
      "gridColor": {"condition": {"test": "datum.value % 10 != 0", "value": "#eeeeee"}, "value": "#e0e0e0"},
      "gridWidth": {"condition": {"test": "datum.value % 10 != 0", "value": 1}, "value": 1.6},
      "tickOpacity": {"condition": {"test": "datum.value % 10 != 0", "value": 0}, "value": 1},
      "title": "t-statistic (Avadomide - SL_033_timsUltra_beta27_FDR)", "titleX": -59, "titleBaseline": "alphabetic", "titleFontSize": 21.8, "labelPadding": 7}}}},
   {"data": {"name": "p3"}, "mark": {"type": "circle", "size": 110, "opacity": 0.9},
    "encoding": {"x": {"field": "x", "type": "quantitative"}, "y": {"field": "y", "type": "quantitative"},
     "color": {"field": "s", "type": "nominal", "title": "Significant", "scale": {"domain": ["DOWN - no","DOWN - UP","no - DOWN","no - no","no - UP"], "range": ["#8e4848","#23a096","#8e4848","#a0a0a0","#4a4a8e"]}, "legend": {"legendX": 573, "legendY": 137}}}},
   {"data": {"name": "b3"}, "mark": {"type": "circle", "size": 110, "opacity": 1, "color": "#666666"},
    "encoding": {"x": {"field": "x", "type": "quantitative"}, "y": {"field": "y", "type": "quantitative"}}},
   {"data": {"name": "p3"}, "transform": [{"filter": "isValid(datum.ex)"}], "mark": {"type": "rule", "color": "#1f9a93", "strokeWidth": 2.2},
    "encoding": {"x": {"field": "x", "type": "quantitative"}, "y": {"field": "y", "type": "quantitative"}, "x2": {"field": "ex"}, "y2": {"field": "ey"}}},
   {"data": {"name": "p3"}, "transform": [{"filter": "isValid(datum.lx)"}], "mark": {"type": "rect", "fill": "#ffffff", "stroke": "#1f9a93", "strokeWidth": 1.7, "cornerRadius": 4, "xOffset": {"expr": "-(length(datum.g)*5.65+8)"}, "x2Offset": {"expr": "length(datum.g)*5.65+8"}, "yOffset": -15, "y2Offset": 15},
    "encoding": {"x": {"field": "lx", "type": "quantitative"}, "x2": {"field": "lx"}, "y": {"field": "ly", "type": "quantitative"}, "y2": {"field": "ly"}}},
   {"data": {"name": "p3"}, "transform": [{"filter": "isValid(datum.lx)"}], "mark": {"type": "text", "color": "#1f9a93", "fontSize": 17.5, "font": "DejaVu Sans"},
    "encoding": {"x": {"field": "lx", "type": "quantitative"}, "y": {"field": "ly", "type": "quantitative"}, "text": {"field": "g"}}},
   {"data": {"name": "t3"}, "mark": {"type": "text", "align": "left", "baseline": "alphabetic", "font": "Liberation Sans", "fontSize": 98, "color": "#ff9900"},
    "encoding": {"x": {"field": "x", "type": "quantitative"}, "y": {"field": "y", "type": "quantitative"}, "text": {"field": "t"}}}
  ]
 },
 {
  "width": 532, "height": 517,
  "title": {"text": "t-statistic comparison (Features)", "offset": -40.2},
  "layer": [
   {"data": {"name": "z"}, "mark": {"type": "rule", "color": "#000000", "strokeWidth": 2.7, "strokeDash": [2.7, 7.6]},
    "encoding": {"x": {"field": "v", "type": "quantitative", "scale": {"domain": [-29.2, 11.2], "nice": false, "zero": false},
     "axis": {"values": [-25,-20,-15,-10,-5,0,5,10], "labelExpr": "datum.value % 10 == 0 ? '' + datum.value : ''",
      "gridColor": {"condition": {"test": "datum.value % 10 != 0", "value": "#eeeeee"}, "value": "#e0e0e0"},
      "gridWidth": {"condition": {"test": "datum.value % 10 != 0", "value": 1}, "value": 1.6},
      "tickOpacity": {"condition": {"test": "datum.value % 10 != 0", "value": 0}, "value": 1},
      "title": "t-statistic (Mezigdomide - PS_CC_000004_HEK293_FDR)", "titleY": 57, "titleBaseline": "alphabetic", "labelBaseline": "alphabetic", "labelPadding": 22}}}},
   {"data": {"name": "z"}, "mark": {"type": "rule", "color": "#000000", "strokeWidth": 2.7, "strokeDash": [2.7, 7.6]},
    "encoding": {"y": {"field": "v", "type": "quantitative", "scale": {"domain": [-17.12, 20.85], "nice": false, "zero": false},
     "axis": {"values": [-15,-10,-5,0,5,10,15,20], "labelExpr": "datum.value % 10 == 0 ? '' + datum.value : ''",
      "gridColor": {"condition": {"test": "datum.value % 10 != 0", "value": "#eeeeee"}, "value": "#e0e0e0"},
      "gridWidth": {"condition": {"test": "datum.value % 10 != 0", "value": 1}, "value": 1.6},
      "tickOpacity": {"condition": {"test": "datum.value % 10 != 0", "value": 0}, "value": 1},
      "title": "t-statistic (Mezigdomide - SL_033_timsUltra_beta27_FDR)", "titleX": -59, "titleBaseline": "alphabetic", "titleFontSize": 21.8, "labelPadding": 7}}}},
   {"data": {"name": "p4"}, "mark": {"type": "circle", "size": 110, "opacity": 0.9},
    "encoding": {"x": {"field": "x", "type": "quantitative"}, "y": {"field": "y", "type": "quantitative"},
     "color": {"field": "s", "type": "nominal", "title": "Significant", "scale": {"domain": ["DOWN - no","DOWN - UP","no - DOWN","no - no","no - UP","UP - no"], "range": ["#8e4848","#23a096","#8e4848","#a0a0a0","#4a4a8e","#4a4a8e"]}, "legend": {"legendX": 574, "legendY": 117}}}},
   {"data": {"name": "b4"}, "mark": {"type": "circle", "size": 110, "opacity": 1, "color": "#666666"},
    "encoding": {"x": {"field": "x", "type": "quantitative"}, "y": {"field": "y", "type": "quantitative"}}},
   {"data": {"name": "p4"}, "transform": [{"filter": "isValid(datum.ex)"}], "mark": {"type": "rule", "color": "#1f9a93", "strokeWidth": 2.2},
    "encoding": {"x": {"field": "x", "type": "quantitative"}, "y": {"field": "y", "type": "quantitative"}, "x2": {"field": "ex"}, "y2": {"field": "ey"}}},
   {"data": {"name": "p4"}, "transform": [{"filter": "isValid(datum.lx)"}], "mark": {"type": "rect", "fill": "#ffffff", "stroke": "#1f9a93", "strokeWidth": 1.7, "cornerRadius": 4, "xOffset": {"expr": "-(length(datum.g)*5.65+8)"}, "x2Offset": {"expr": "length(datum.g)*5.65+8"}, "yOffset": -15, "y2Offset": 15},
    "encoding": {"x": {"field": "lx", "type": "quantitative"}, "x2": {"field": "lx"}, "y": {"field": "ly", "type": "quantitative"}, "y2": {"field": "ly"}}},
   {"data": {"name": "p4"}, "transform": [{"filter": "isValid(datum.lx)"}], "mark": {"type": "text", "color": "#1f9a93", "fontSize": 17.5, "font": "DejaVu Sans"},
    "encoding": {"x": {"field": "lx", "type": "quantitative"}, "y": {"field": "ly", "type": "quantitative"}, "text": {"field": "g"}}},
   {"data": {"name": "t4"}, "mark": {"type": "text", "align": "left", "baseline": "alphabetic", "font": "Liberation Sans", "fontSize": 98, "color": "#ff9900"},
    "encoding": {"x": {"field": "x", "type": "quantitative"}, "y": {"field": "y", "type": "quantitative"}, "text": {"field": "t"}}}
  ]
 }
]
}
